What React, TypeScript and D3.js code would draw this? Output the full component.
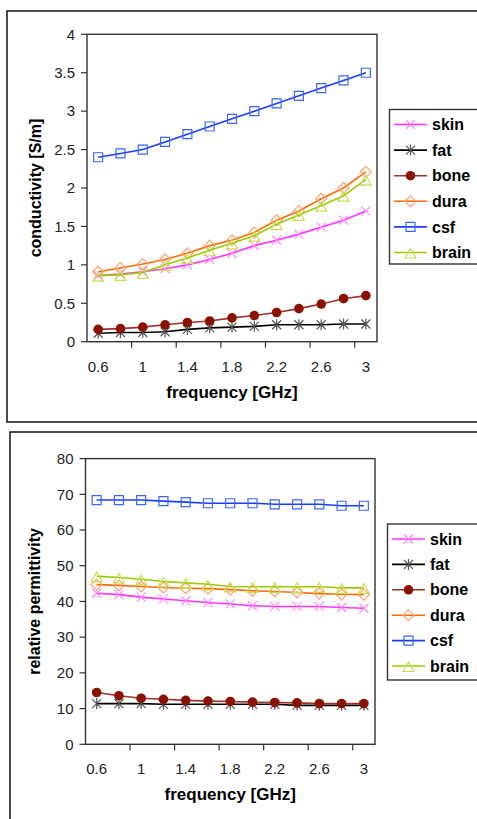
import React, { useEffect, useRef } from 'react';
import * as d3 from 'd3';

// frequency categories (GHz)
const freqs = ['0.6', '0.8', '1', '1.2', '1.4', '1.6', '1.8', '2', '2.2', '2.4', '2.6', '2.8', '3'];
const tissues = ['skin', 'fat', 'bone', 'dura', 'csf', 'brain'];

// conductivity [S/m]
const condSkin = [0.86, 0.88, 0.91, 0.95, 1.0, 1.07, 1.15, 1.25, 1.32, 1.4, 1.49, 1.58, 1.7];
const condFat = [0.11, 0.12, 0.12, 0.13, 0.16, 0.18, 0.19, 0.2, 0.22, 0.22, 0.22, 0.23, 0.23];
const condBone = [0.16, 0.17, 0.19, 0.22, 0.25, 0.27, 0.31, 0.34, 0.38, 0.43, 0.49, 0.56, 0.6];
const condDura = [0.91, 0.96, 1.01, 1.07, 1.15, 1.25, 1.32, 1.42, 1.58, 1.7, 1.86, 2.0, 2.21];
const condCsf = [2.4, 2.45, 2.5, 2.6, 2.7, 2.8, 2.9, 3.0, 3.1, 3.2, 3.3, 3.4, 3.5];
const condBrain = [0.86, 0.87, 0.9, 1.0, 1.09, 1.19, 1.28, 1.38, 1.53, 1.65, 1.77, 1.9, 2.11];
const condTicks = ['0', '0.5', '1', '1.5', '2', '2.5', '3', '3.5', '4'];

// relative permittivity
const permSkin = [42.3, 41.9, 41.2, 40.7, 40.2, 39.7, 39.3, 38.8, 38.6, 38.6, 38.6, 38.3, 38.1];
const permFat = [11.4, 11.4, 11.4, 11.2, 11.2, 11.2, 11.2, 11.2, 11.2, 10.9, 10.9, 10.9, 10.9];
const permBone = [14.5, 13.6, 12.9, 12.6, 12.3, 12.1, 12.0, 11.8, 11.7, 11.6, 11.4, 11.4, 11.4];
const permDura = [44.7, 44.5, 44.2, 43.9, 43.7, 43.6, 43.3, 43.0, 42.8, 42.5, 42.2, 42.0, 41.9];
const permCsf = [68.4, 68.4, 68.4, 68.1, 67.8, 67.5, 67.5, 67.5, 67.2, 67.2, 67.2, 66.8, 66.8];
const permBrain = [47.1, 46.7, 46.2, 45.6, 45.2, 44.8, 44.2, 44.1, 44.1, 44.1, 44.1, 43.8, 43.8];
const permTicks = ['0', '10', '20', '30', '40', '50', '60', '70', '80'];

const styles = {
  skin: { line: '#ff33ff', mark: '#ff88ff', shape: 'x' },
  fat: { line: '#000000', mark: '#555555', shape: 'star' },
  bone: { line: '#a0302a', mark: '#8b1200', shape: 'circle' },
  dura: { line: '#ff6a00', mark: '#ffa070', shape: 'diamond' },
  csf: { line: '#1a3cff', mark: '#3a66ff', shape: 'square' },
  brain: { line: '#99cc00', mark: '#c8dc50', shape: 'triangle' },
};

const markerPath = (shape) => {
  switch (shape) {
    case 'x': return 'M-4.5,-4.5L4.5,4.5M-4.5,4.5L4.5,-4.5';
    case 'star': return 'M-4.5,-4.5L4.5,4.5M-4.5,4.5L4.5,-4.5M0,-5.5L0,5.5';
    case 'diamond': return 'M0,-5.5L5.5,0L0,5.5L-5.5,0Z';
    case 'square': return 'M-4.5,-4.5L4.5,-4.5L4.5,4.5L-4.5,4.5Z';
    case 'triangle': return 'M0,-4L5.5,5.5L-5.5,5.5Z';
    default: return '';
  }
};

const drawMarker = (g, shape, x, y, color) => {
  if (shape === 'circle') {
    g.append('circle').attr('cx', x).attr('cy', y).attr('r', 4.8).attr('fill', color);
  } else {
    g.append('path')
      .attr('d', markerPath(shape))
      .attr('transform', `translate(${x},${y})`)
      .attr('fill', 'none')
      .attr('stroke', color)
      .attr('stroke-width', 1.2);
  }
};

const drawChart = (svg, cfg) => {
  const { plot, frame, legend, yMax, ticks, series, yTitle } = cfg;

  svg.append('rect')
    .attr('x', frame.x).attr('y', frame.y).attr('width', frame.w).attr('height', frame.h)
    .attr('fill', '#fff').attr('stroke', '#111').attr('stroke-width', 1.5);

  const x = d3.scaleBand().domain(freqs).range([plot.left, plot.right]).padding(0);
  const y = d3.scaleLinear().domain([0, yMax]).range([plot.bottom, plot.top]);
  const cx = (f) => x(f) + x.bandwidth() / 2;

  svg.append('rect')
    .attr('x', plot.left).attr('y', plot.top)
    .attr('width', plot.right - plot.left).attr('height', plot.bottom - plot.top)
    .attr('fill', 'none').attr('stroke', '#333').attr('stroke-width', 1.4);

  // y ticks
  ticks.forEach((t) => {
    const yy = y(+t);
    svg.append('line').attr('x1', plot.left - 6).attr('x2', plot.left)
      .attr('y1', yy).attr('y2', yy).attr('stroke', '#333').attr('stroke-width', 1.2);
    svg.append('text').attr('x', plot.left - 12).attr('y', yy).attr('dy', '0.35em')
      .attr('text-anchor', 'end').attr('font-size', 15).attr('fill', '#222')
      .attr('font-family', 'Liberation Sans, Arial, sans-serif').text(t);
  });

  // x ticks every second category
  freqs.forEach((f, i) => {
    if (i % 2 !== 0) return;
    if (i > 0) {
      svg.append('line').attr('x1', x(f)).attr('x2', x(f))
        .attr('y1', plot.bottom).attr('y2', plot.bottom + 6)
        .attr('stroke', '#333').attr('stroke-width', 1.2);
    }
    svg.append('text').attr('x', cx(f)).attr('y', plot.bottom + 30)
      .attr('text-anchor', 'middle').attr('font-size', 15).attr('fill', '#222')
      .attr('font-family', 'Liberation Sans, Arial, sans-serif').text(f);
  });

  svg.append('text')
    .attr('x', (plot.left + plot.right) / 2).attr('y', plot.bottom + 56)
    .attr('text-anchor', 'middle').attr('font-size', 17).attr('font-weight', 'bold')
    .attr('font-family', 'Liberation Sans, Arial, sans-serif').text('frequency [GHz]');

  svg.append('text')
    .attr('transform', `translate(${plot.left - 46},${(plot.top + plot.bottom) / 2}) rotate(-90)`)
    .attr('text-anchor', 'middle').attr('font-size', 16).attr('font-weight', 'bold')
    .attr('font-family', 'Liberation Sans, Arial, sans-serif').text(yTitle);

  const line = d3.line().x((d) => cx(d[0])).y((d) => y(d[1]));
  const g = svg.append('g');
  tissues.forEach((name, si) => {
    const st = styles[name];
    const pts = freqs.map((f, i) => [f, series[si][i]]);
    g.append('path').attr('d', line(pts)).attr('fill', 'none')
      .attr('stroke', st.line).attr('stroke-width', 1.6);
    pts.forEach((p) => drawMarker(g, st.shape, cx(p[0]), y(p[1]), st.mark));
  });

  // legend
  svg.append('rect')
    .attr('x', legend.x).attr('y', legend.y).attr('width', legend.w).attr('height', legend.h)
    .attr('fill', '#fff').attr('stroke', '#333').attr('stroke-width', 1.4);
  tissues.forEach((name, i) => {
    const st = styles[name];
    const yy = legend.first + i * legend.step;
    svg.append('line').attr('x1', legend.lx).attr('x2', legend.lx + 33)
      .attr('y1', yy).attr('y2', yy).attr('stroke', st.line).attr('stroke-width', 1.6);
    drawMarker(svg, st.shape, legend.lx + 16.5, yy, st.mark);
    svg.append('text').attr('x', legend.lx + 38).attr('y', yy).attr('dy', '0.35em')
      .attr('font-size', 16).attr('font-weight', 'bold')
      .attr('font-family', 'Liberation Sans, Arial, sans-serif').text(name);
  });
};

const App = () => {
  const ref = useRef(null);

  useEffect(() => {
    const svg = d3.select(ref.current);
    svg.selectAll('*').remove();

    drawChart(svg, {
      plot: { left: 87, right: 377, top: 34.3, bottom: 341.7 },
      frame: { x: 7, y: 11, w: 480, h: 411 },
      legend: { x: 389.5, y: 109.5, w: 95, h: 154.5, first: 124.5, step: 25.6, lx: 394 },
      yMax: 4,
      ticks: condTicks,
      series: [condSkin, condFat, condBone, condDura, condCsf, condBrain],
      yTitle: 'conductivity [S/m]',
    });

    drawChart(svg, {
      plot: { left: 85.5, right: 375, top: 458.6, bottom: 744.3 },
      frame: { x: 10, y: 432, w: 480, h: 400 },
      legend: { x: 387.5, y: 524, w: 95, h: 156, first: 539, step: 25.4, lx: 392 },
      yMax: 80,
      ticks: permTicks,
      series: [permSkin, permFat, permBone, permDura, permCsf, permBrain],
      yTitle: 'relative permittivity',
    });
  }, []);

  return (
    <svg ref={ref} width={477} height={819}
      style={{ position: 'absolute', left: 0, top: 0, background: '#fff' }} />
  );
};

export default App;
